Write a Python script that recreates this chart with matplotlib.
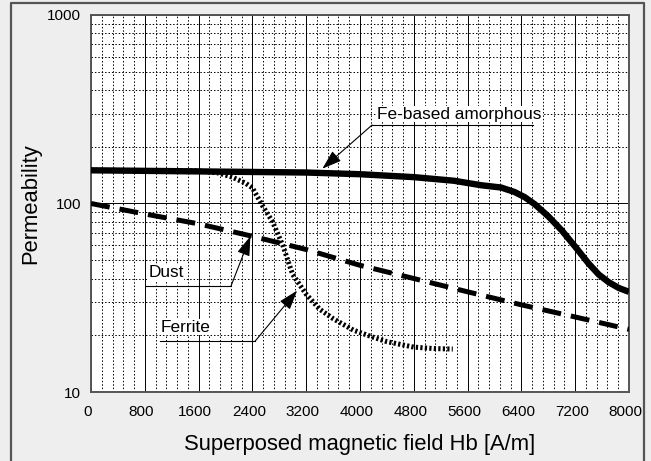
import numpy as np
import matplotlib
matplotlib.use('Agg')
import matplotlib.pyplot as plt
import matplotlib.ticker as mticker
import matplotlib.transforms as mtrans
from matplotlib.lines import Line2D

plt.rcParams['font.family'] = ['Liberation Sans', 'DejaVu Sans']

### Data (H in A/m, permeability)
amor_h = [0, 800, 1600, 2400, 3200, 4000, 4800, 5400, 5800, 6100, 6300, 6450, 6600,
          6800, 7000, 7200, 7400, 7550, 7700, 7850, 8000]
amor_mu = [150, 149, 148, 147, 146, 143, 138, 132, 125, 121.5, 115, 108, 99,
           85.5, 72, 59, 48, 42, 38.2, 35.6, 34]

dust_h = [0, 800, 1600, 2400, 3200, 4000, 4800, 5600, 6400, 7200, 8000]
dust_mu = [100, 88, 78, 67, 57, 47, 40, 34, 29, 25, 21.5]

ferr_h = [0, 1600, 1900, 2100, 2300, 2400, 2560, 2700, 2860, 2960, 3000, 3200, 3400,
          3600, 3900, 4200, 4400, 4800, 5100, 5380]
ferr_mu = [150, 149, 145, 138, 128, 121, 96, 80, 59, 46, 42, 33, 27.5,
           24.5, 21.3, 19.5, 18.5, 17.3, 17.0, 16.9]

xticks = list(range(0, 8001, 800))
yticks = [10, 100, 1000]

#%% Figure
W, H = 651, 461
fig = plt.figure(figsize=(W/100, H/100), dpi=100, facecolor='#eeeeee')
ax = fig.add_axes([91/W, 1-392/H, 538/W, 377/H])
ax.set_facecolor('white')

### outer frame (left, top, right)
fig.add_artist(Line2D([11/W, 11/W, 644/W, 644/W], [0, 1-3/H, 1-3/H, 0],
                      transform=fig.transFigure, color='#555555', lw=1.6))

ax.set_yscale('log')
ax.set_xlim(0, 8000)
ax.set_ylim(10, 1000)
ax.set_xticks(xticks)
ax.xaxis.set_minor_locator(mticker.MultipleLocator(160))
ax.set_yticks(yticks)
ax.yaxis.set_major_formatter(mticker.FuncFormatter(lambda v, p: '{:g}'.format(v)))
ax.yaxis.set_minor_locator(mticker.LogLocator(subs=np.arange(2, 10)))
ax.yaxis.set_minor_formatter(mticker.NullFormatter())
ax.tick_params(which='both', length=0, labelsize=11)
ax.tick_params(axis='x', pad=9)
ax.tick_params(axis='y', pad=7)
### x tick labels sit a little left of their gridlines in the original
shift = mtrans.ScaledTranslation(-3.5/100, 0, fig.dpi_scale_trans)
for lab in ax.get_xticklabels():
    lab.set_transform(lab.get_transform() + shift)

ax.grid(which='major', color='black', lw=0.7, ls='-')
ax.grid(which='minor', color='black', lw=0.7, ls=(0, (1.5, 2)))
ax.set_axisbelow(True)
for s in ax.spines.values():
    s.set_color('#555555')
    s.set_linewidth(1.4)

### Curves
ax.plot(ferr_h, ferr_mu, color='black', lw=3.6, ls=(0, (0.45, 0.45)),
        solid_capstyle='butt', zorder=3)
ax.plot(dust_h, dust_mu, color='black', lw=3.6, ls=(0, (3.8, 2.0)), zorder=3)
ax.plot(amor_h, amor_mu, color='black', lw=4.6, zorder=4,
        solid_capstyle='butt', solid_joinstyle='round')

### Annotations
aprops = dict(arrowstyle='-|>,head_length=0.75,head_width=0.25', color='black',
              lw=0.8, mutation_scale=16, shrinkA=0, shrinkB=0)

def callout(label, tip, elbow, line_end, text_xy):
    ax.annotate('', xy=tip, xytext=elbow, arrowprops=aprops, zorder=6)
    ax.plot([elbow[0], line_end], [elbow[1], elbow[1]], color='black', lw=0.8, zorder=6)
    ax.text(text_xy[0], text_xy[1], label, fontsize=12.4, va='center', ha='left',
            zorder=7, bbox=dict(facecolor='white', edgecolor='none', pad=0.5))

callout('Fe-based amorphous', (3440, 153), (4180, 261), 6570, (4260, 298))
callout('Dust', (2370, 67), (2082, 36.5), 818, (850, 42.8))
callout('Ferrite', (3065, 34.5), (2440, 18.6), 1026, (1030, 22.1))

ax.set_xlabel('Superposed magnetic field Hb [A/m]', fontsize=15.8, labelpad=11)
ax.set_ylabel('Permeability', fontsize=15.8, labelpad=4)

fig.savefig('out.png', dpi=100, facecolor=fig.get_facecolor())
